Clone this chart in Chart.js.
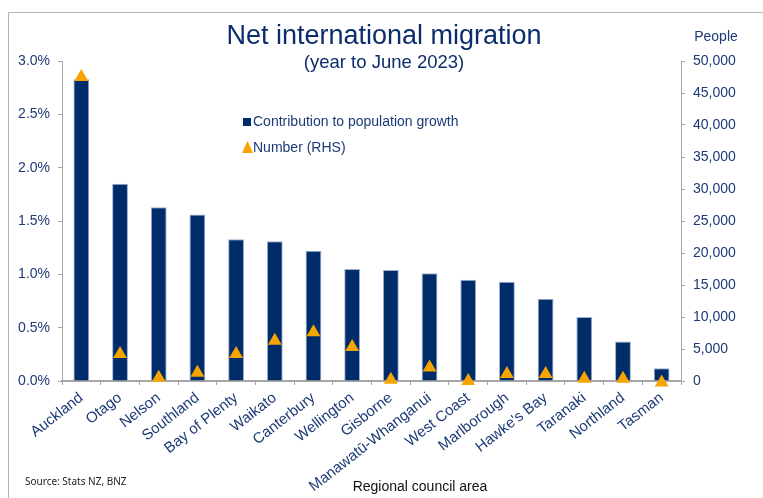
<!DOCTYPE html>
<html>
<head>
<meta charset="utf-8">
<script src="https://cdn.jsdelivr.net/npm/chart.js@4.4.0/dist/chart.umd.min.js"></script>
<style>
  html, body { margin: 0; padding: 0; background: #fff; }
  canvas { display: block; }
</style>
</head>
<body>
<canvas id="chart" width="763" height="498"></canvas>
<script>
const regions = ['Auckland', 'Otago', 'Nelson', 'Southland', 'Bay of Plenty', 'Waikato', 'Canterbury',
    'Wellington', 'Gisborne', 'Manawatū-Whanganui', 'West Coast', 'Marlborough', "Hawke's Bay",
    'Taranaki', 'Northland', 'Tasman'];
// % contribution to population growth (LHS)
const contribution = [2.83, 1.85, 1.63, 1.56, 1.33, 1.31, 1.22, 1.05, 1.04, 1.01, 0.95, 0.93, 0.77, 0.60, 0.37, 0.12];
// net migrants, people (RHS)
const people = [47500, 4200, 500, 1300, 4200, 6300, 7600, 5300, 200, 2100, 0, 1100, 1100, 350, 350, -250];

const NAVY = '#002d6a';
const ORANGE = '#f6a500';
const TEXT = '#1c3a76';
const AXIS = '#a6a6a6';
const FONT = "'Liberation Sans', Arial, sans-serif";

const decor = {
    id: 'decor',
    afterDraw(chart) {
        const ctx = chart.ctx;
        ctx.save();
        // outer frame (top + left only visible)
        ctx.strokeStyle = '#b4b4b4';
        ctx.lineWidth = 1;
        ctx.beginPath();
        ctx.moveTo(8.5, 498);
        ctx.lineTo(8.5, 12.5);
        ctx.lineTo(763, 12.5);
        ctx.stroke();

        ctx.textAlign = 'center';
        ctx.textBaseline = 'middle';
        ctx.fillStyle = '#0b2d6b';
        ctx.font = '27px ' + FONT;
        ctx.fillText('Net international migration', 384, 37);
        ctx.font = '18.5px ' + FONT;
        ctx.fillText('(year to June 2023)', 384, 63);

        ctx.fillStyle = TEXT;
        ctx.font = '14px ' + FONT;
        ctx.fillText('People', 716, 37);

        // legend
        ctx.textAlign = 'left';
        ctx.fillStyle = NAVY;
        ctx.fillRect(243, 118, 8, 8);
        ctx.fillStyle = TEXT;
        ctx.fillText('Contribution to population growth', 253, 122);
        ctx.fillStyle = ORANGE;
        ctx.beginPath();
        ctx.moveTo(247.5, 141);
        ctx.lineTo(253, 153);
        ctx.lineTo(242, 153);
        ctx.closePath();
        ctx.fill();
        ctx.fillStyle = TEXT;
        ctx.fillText('Number (RHS)', 253, 148);

        ctx.textAlign = 'center';
        ctx.fillStyle = '#111';
        ctx.font = '14px ' + FONT;
        ctx.fillText('Regional council area', 420, 487);

        ctx.textAlign = 'left';
        ctx.fillStyle = '#222';
        ctx.font = "10px 'Noto Sans', sans-serif";
        ctx.fillText('Source: Stats NZ, BNZ', 25, 482);
        ctx.restore();
    }
};

new Chart(document.getElementById('chart'), {
    type: 'bar',
    data: {
        labels: regions,
        datasets: [{
            type: 'line',
            label: 'Number (RHS)',
            data: people,
            yAxisID: 'y2',
            showLine: false,
            pointStyle: 'triangle',
            pointRadius: 8,
            pointBackgroundColor: ORANGE,
            pointBorderColor: ORANGE,
            pointBorderWidth: 0,
            clip: false,
            order: 0
        }, {
            label: 'Contribution to population growth',
            data: contribution,
            yAxisID: 'y',
            backgroundColor: NAVY,
            borderColor: '#9fb0cf',
            borderWidth: { top: 1, left: 1, right: 1, bottom: 0 },
            barPercentage: 0.41,
            categoryPercentage: 1,
            order: 1
        }]
    },
    options: {
        responsive: false,
        animation: false,
        layout: { padding: { top: 61, left: 0, right: 0, bottom: 0 } },
        plugins: {
            legend: { display: false },
            title: { display: false },
            tooltip: { enabled: false }
        },
        scales: {
            x: {
                grid: { display: true, drawOnChartArea: false, drawTicks: true, tickLength: 4, color: AXIS, offset: true },
                border: { color: AXIS, width: 2 },
                ticks: {
                    autoSkip: false,
                    minRotation: 38,
                    maxRotation: 38,
                    padding: 4,
                    color: TEXT,
                    font: { family: FONT, size: 15 }
                },
                afterFit(scale) { scale.height = 117; }
            },
            y: {
                position: 'left',
                min: 0,
                max: 3,
                grid: { drawOnChartArea: false, drawTicks: true, tickLength: 4, color: AXIS },
                border: { color: AXIS, width: 1 },
                ticks: {
                    stepSize: 0.5,
                    padding: 8,
                    color: TEXT,
                    font: { family: FONT, size: 14 },
                    callback: v => v.toFixed(1) + '%'
                },
                afterFit(scale) { scale.width = 62; }
            },
            y2: {
                position: 'right',
                min: 0,
                max: 50000,
                grid: { drawOnChartArea: false, drawTicks: true, tickLength: 4, color: AXIS },
                border: { color: AXIS, width: 1 },
                ticks: {
                    stepSize: 5000,
                    padding: 8,
                    color: TEXT,
                    font: { family: FONT, size: 14 },
                    callback: v => v.toLocaleString('en-US')
                },
                afterFit(scale) { scale.width = 82; }
            }
        }
    },
    plugins: [decor]
});
</script>
</body>
</html>
